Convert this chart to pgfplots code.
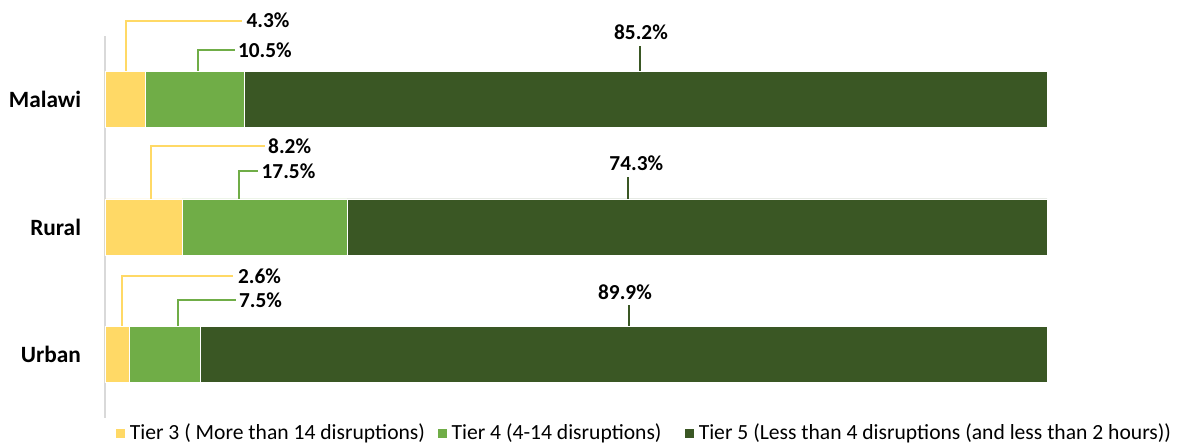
\documentclass[border=0pt]{standalone}
\usepackage{pgfplots}
\pgfplotsset{compat=1.18}
\usepackage{fontspec}
\setmainfont{Carlito}
\definecolor{tThree}{HTML}{FFD966}
\definecolor{tFour}{HTML}{70AD47}
\definecolor{tFive}{HTML}{3A5724}
\tikzset{lead/.style={line width=1.7pt}, lbl/.style={font=\bfseries\fontsize{16}{18}\selectfont, inner sep=0pt}}
\begin{document}
\begin{tikzpicture}
\path[use as bounding box] (0,0) rectangle (883.5pt,333.75pt);
\begin{axis}[
  at={(78.75pt,20.25pt)}, anchor=south west,
  scale only axis, width=706.5pt, height=286.5pt,
  xbar stacked, bar width=0.44,
  xmin=0, xmax=100, ymin=-0.5, ymax=2.5,
  axis x line=none, axis y line*=left,
  y axis line style={draw=black!15, line width=1pt},
  ytick={0,1,2}, yticklabels={Urban,Rural,Malawi},
  major tick length=0pt,
  yticklabel style={font=\bfseries\fontsize{17.5}{20}\selectfont, xshift=-14.5pt},
  legend columns=3,
  legend style={at={(0.0106,-0.039)}, anchor=west, draw=none, inner sep=0pt,
    font=\fontsize{16.2}{18}\selectfont,
    nodes={inner sep=0pt}},
  legend image code/.code={\fill[#1] (0pt,-3.75pt) rectangle (7.5pt,3.75pt);},
  clip=false,
]
\addplot[fill=tThree, draw=white, line width=0.4pt] coordinates {(2.6,0) (8.2,1) (4.3,2)};
\addplot[fill=tFour, draw=white, line width=0.4pt] coordinates {(7.5,0) (17.5,1) (10.5,2)};
\addplot[fill=tFive, draw=white, line width=0.4pt] coordinates {(89.9,0) (74.3,1) (85.2,2)};
\legend{\rule{3pt}{0pt}Tier 3 ( More than 14 disruptions)\rule{9pt}{0pt}, \rule{3pt}{0pt}Tier 4 (4-14 disruptions)\rule{17pt}{0pt}, \rule{3pt}{0pt}Tier 5 (Less than 4 disruptions (and less than 2 hours))}
\draw[lead, tThree] (axis cs:2.2,2.22) -- (axis cs:2.2,2.62) -- (axis cs:14.5,2.62);
\draw[lead, tFour] (axis cs:9.9,2.22) -- (axis cs:9.9,2.39) -- (axis cs:13.8,2.39);
\draw[lead, tFive] (axis cs:56.8,2.22) -- (axis cs:56.8,2.42);
\draw[lead, tThree] (axis cs:4.9,1.22) -- (axis cs:4.9,1.636) -- (axis cs:17.0,1.636);
\draw[lead, tFour] (axis cs:14.2,1.22) -- (axis cs:14.2,1.44) -- (axis cs:16.2,1.44);
\draw[lead, tFive] (axis cs:55.5,1.22) -- (axis cs:55.5,1.393);
\draw[lead, tThree] (axis cs:1.8,0.22) -- (axis cs:1.8,0.613) -- (axis cs:13.6,0.613);
\draw[lead, tFour] (axis cs:7.75,0.22) -- (axis cs:7.75,0.424) -- (axis cs:13.9,0.424);
\draw[lead, tFive] (axis cs:55.6,0.22) -- (axis cs:55.6,0.385);
\node[lbl, anchor=west] at (axis cs:15.0,2.62) {4.3\%};
\node[lbl, anchor=west] at (axis cs:14.1,2.39) {10.5\%};
\node[lbl] at (axis cs:56.9,2.53) {85.2\%};
\node[lbl, anchor=west] at (axis cs:17.3,1.636) {8.2\%};
\node[lbl, anchor=west] at (axis cs:16.6,1.44) {17.5\%};
\node[lbl] at (axis cs:56.4,1.503) {74.3\%};
\node[lbl, anchor=west] at (axis cs:14.1,0.613) {2.6\%};
\node[lbl, anchor=west] at (axis cs:14.2,0.424) {7.5\%};
\node[lbl] at (axis cs:55.2,0.487) {89.9\%};
\end{axis}
\end{tikzpicture}
\end{document}
